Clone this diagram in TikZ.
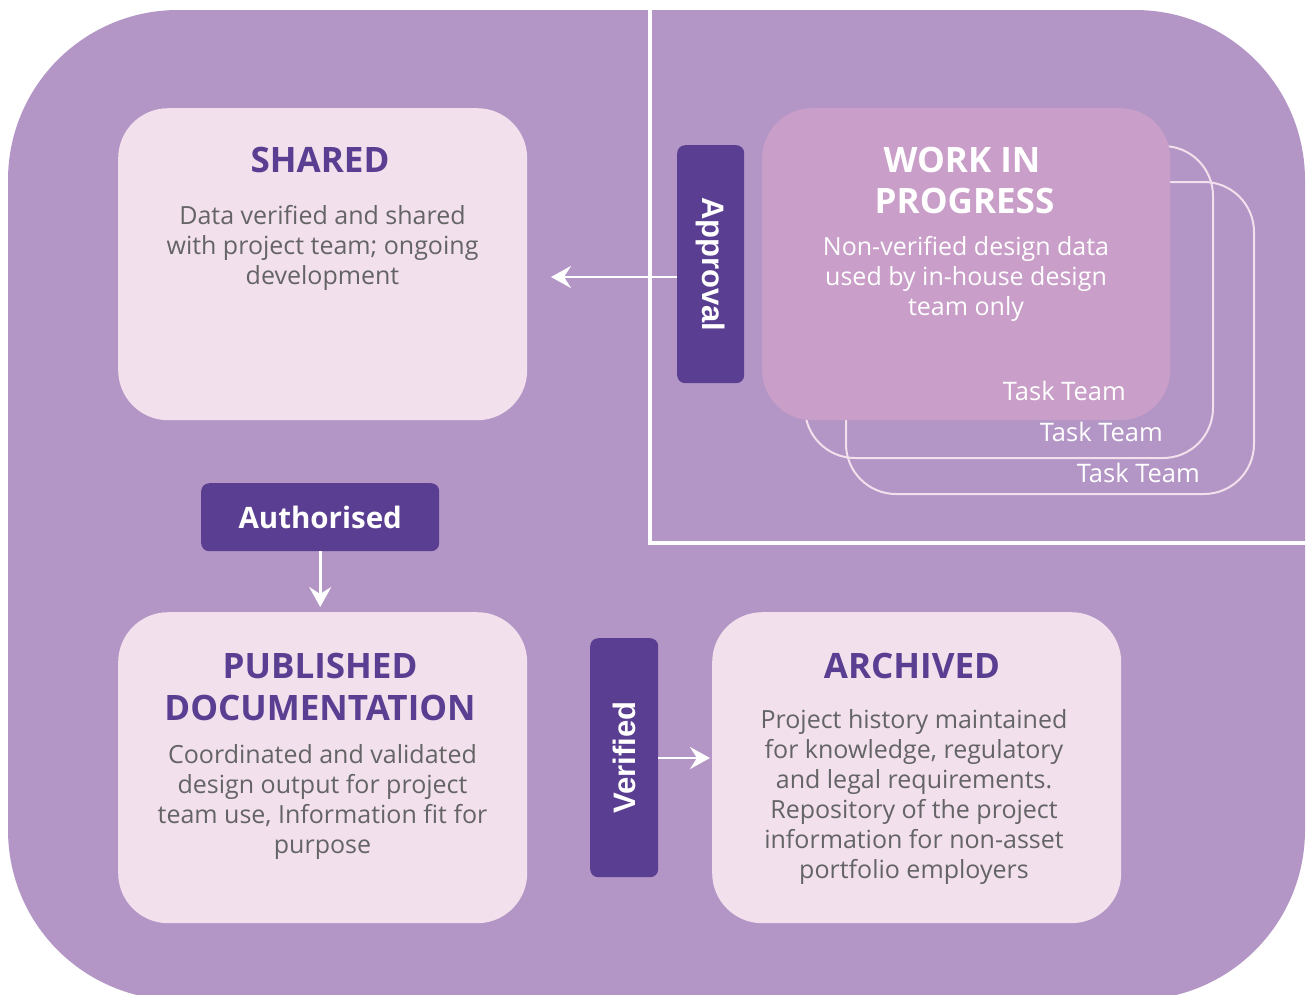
\documentclass[tikz,border=0pt]{standalone}
\usepackage{fontspec}
\setmainfont{Open Sans}
\newfontfamily\libsans{Liberation Sans}
\usetikzlibrary{arrows.meta}
\definecolor{outerc}{HTML}{B396C6}
\definecolor{lightc}{HTML}{F2E0EC}
\definecolor{wipc}{HTML}{C99EC8}
\definecolor{darkc}{HTML}{5A3E91}
\definecolor{grayc}{HTML}{646466}
\tikzset{
  stagebox/.style={fill=lightc, rounded corners=50pt, inner sep=0pt, minimum width=409pt, minimum height=312pt, anchor=north west},
  wipbox/.style={fill=wipc, rounded corners=50pt, inner sep=0pt, minimum width=408pt, minimum height=312pt, anchor=north west},
  teambox/.style={draw=lightc, line width=2pt, rounded corners=50pt, inner sep=0pt, minimum width=408pt, minimum height=312pt, anchor=north west},
  tagbox/.style={fill=darkc, rounded corners=8pt, inner sep=0pt, anchor=north west},
  tagtext/.style={text=white, font=\libsans\bfseries\fontsize{31}{35}\selectfont, inner sep=0pt},
  authtext/.style={text=white, font=\bfseries\fontsize{29.5}{34}\selectfont, inner sep=0pt},
  titletext/.style={text=darkc, font=\bfseries\fontsize{35}{40}\selectfont, inner sep=0pt, anchor=base},
  wiptitle/.style={text=white, font=\bfseries\fontsize{35}{40}\selectfont, inner sep=0pt, anchor=base},
  bodytext/.style={text=grayc, font=\fontsize{25}{30}\selectfont, inner sep=0pt, anchor=base},
  wiptext/.style={text=white, font=\fontsize{25}{30}\selectfont, inner sep=0pt, anchor=base},
  teamtext/.style={text=white, font=\fontsize{25.5}{30}\selectfont, inner sep=0pt, anchor=base east},
  arr/.style={draw=white, line width=2.6pt, -{Stealth[length=20pt, width=22pt, inset=7pt]}},
}
\begin{document}
\begin{tikzpicture}[x=1pt, y=-1pt]
\useasboundingbox (0,0) rectangle (1309,994);
\clip (0,0) rectangle (1309,994);
% outer background
\fill[outerc, rounded corners=170pt] (8,10) rectangle (1305,1000);
% white frame of the work-in-progress area
\draw[white, line width=4pt] (650,10) -- (650,543) -- (1309,543);

% task team outlines
\node[teambox] (team3) at (845,181) {};
\node[teambox] (team2) at (804,145) {};
\node[wipbox] (wip) at (762,108) {};

% main stage boxes
\node[stagebox] (shared) at (118,108) {};
\node[stagebox, minimum height=311pt] (pub) at (118,612) {};
\node[stagebox, minimum height=311pt] (arch) at (712,612) {};

% tags
\node[tagbox, minimum width=67pt, minimum height=238pt] (appr) at (677,145) {};
\node[tagtext, rotate=-90] (apprT) at (appr.center) {Approval};
\node[tagbox, minimum width=68pt, minimum height=239pt] (ver) at (590,638) {};
\node[tagtext, rotate=90] (verT) at (ver.center) {Verified};
\node[tagbox, minimum width=238pt, minimum height=68pt] (auth) at (201,483) {};
\node[authtext] (authT) at (auth.center) {Authorised};

% connectors
\coordinate (sharedtip) at (551,277);
\draw[arr] (appr.west |- sharedtip) -- (sharedtip);
\draw[arr] (auth.south) -- ([yshift=5pt]pub.north -| auth.south);
\draw[arr] (ver.east |- 0,758) -- ([xshift=-2pt]arch.west |- 0,758);

% SHARED text
\node[titletext] (sharedTitle) at (320,172) {SHARED};
\foreach \t [count=\i] in {Data verified and shared, with project team; ongoing, development}
  \node[bodytext] (sharedL\i) at (322.5,{224+30*(\i-1)}) {\t};

% WIP text
\node[wiptitle] (wipT1) at (962,172) {WORK IN};
\node[wiptitle] (wipT2) at (964.5,213) {PROGRESS};
\foreach \t [count=\i] in {Non-verified design data, used by in-house design, team only}
  \node[wiptext] (wipL\i) at (966,{255+30*(\i-1)}) {\t};
\node[teamtext] (teamL1) at (1126,400) {Task Team};
\node[teamtext] (teamL2) at (1163,441) {Task Team};
\node[teamtext] (teamL3) at (1200,482) {Task Team};

% PUBLISHED text
\node[titletext] (pubT1) at (320,678) {PUBLISHED};
\node[titletext] (pubT2) at (320,720) {DOCUMENTATION};
\foreach \t [count=\i] in {Coordinated and validated, design output for project, {team use, Information fit for}, purpose}
  \node[bodytext] (pubL\i) at (322.5,{763+30*(\i-1)}) {\t};

% ARCHIVED text
\node[titletext] (archT) at (912,678) {ARCHIVED};
\foreach \t [count=\i] in {Project history maintained, {for knowledge, regulatory}, and legal requirements., Repository of the project, information for non-asset, portfolio employers}
  \node[bodytext] (archL\i) at (914,{728+30*(\i-1)}) {\t};
\end{tikzpicture}
\end{document}
